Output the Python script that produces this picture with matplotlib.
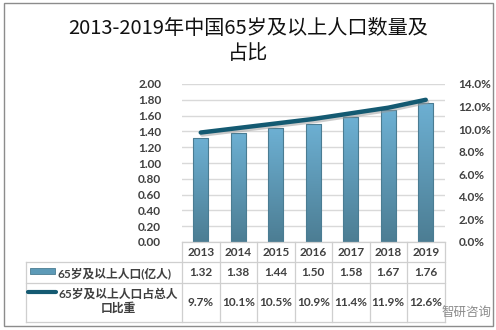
import numpy as np
import matplotlib
matplotlib.use("Agg")
import matplotlib.pyplot as plt
import matplotlib.patheffects as pe
from matplotlib.patches import Rectangle
from matplotlib.ticker import FuncFormatter

plt.rcParams['font.family'] = ['Lato', 'Noto Sans CJK SC', 'DejaVu Sans']

# 数据
years = ['2013', '2014', '2015', '2016', '2017', '2018', '2019']
pop_65 = [1.32, 1.38, 1.44, 1.50, 1.58, 1.67, 1.76]      # 亿人
share_65 = [9.7, 10.1, 10.5, 10.9, 11.4, 11.9, 12.6]     # %
title = '2013-2019年中国65岁及以上人口数量及\n占比'
bar_label = '65岁及以上人口(亿人)'
line_label = '65岁及以上人口占总人\n口比重'

W, H = 496, 330
txt_col = '#404040'
grid_col = '#d9d9d9'
line_col = '#145a72'

fig = plt.figure(figsize=(W / 100, H / 100), dpi=100)

# 图表区域（像素）
px_l, px_r, px_t, px_b = 182, 444.5, 84, 242
ax = fig.add_axes([px_l / W, 1 - px_b / H, (px_r - px_l) / W, (px_b - px_t) / H])
x = np.arange(len(years))

# 渐变柱子
grad = np.linspace(0, 1, 256).reshape(-1, 1)
cmap = matplotlib.colors.LinearSegmentedColormap.from_list('bar', ['#4c7d93', '#6db0d3'])
bars = ax.bar(x, pop_65, width=0.41, color='none', edgecolor='#4a7c92', linewidth=0.8, zorder=3)
for b in bars:
    bx, by, bw, bh = b.get_x(), b.get_y(), b.get_width(), b.get_height()
    im = ax.imshow(grad, cmap=cmap, aspect='auto', origin='lower',
                   extent=[bx, bx + bw, by, by + bh], zorder=2)
    im.set_clip_path(b)

ax.set_xlim(-0.5, len(years) - 0.5)
ax.set_ylim(0, 2.0)
ax.set_yticks(np.arange(0, 2.01, 0.2))
ax.yaxis.set_major_formatter(FuncFormatter(lambda v, p: f'{v:.2f}'))
ax.set_xticks([])
ax.grid(axis='y', color=grid_col, linewidth=1, zorder=0)
for s in ax.spines.values():
    s.set_visible(False)
ax.tick_params(axis='y', length=0, pad=15, labelsize=8.5, labelcolor=txt_col)
for t in ax.get_yticklabels():
    t.set_fontweight('bold')

ax2 = ax.twinx()
ax2.plot(x, share_65, color=line_col, linewidth=3.2, solid_capstyle='round', zorder=4,
         path_effects=[pe.SimpleLineShadow(offset=(1, -1.5), shadow_color='#999999', alpha=0.5),
                       pe.Normal()])
ax2.set_ylim(0, 14)
ax2.set_yticks(np.arange(0, 14.01, 2))
ax2.yaxis.set_major_formatter(FuncFormatter(lambda v, p: f'{v:.1f}%'))
for s in ax2.spines.values():
    s.set_visible(False)
ax2.tick_params(axis='y', length=0, pad=10, labelsize=8.5, labelcolor=txt_col)
for t in ax2.get_yticklabels():
    t.set_fontweight('bold')

# 标题
fig.text(0.5, 1 - 41 / H, title, ha='center', va='center', fontsize=14.5,
         family=['Noto Sans CJK SC'], color='#111111', linespacing=1.3)

# 数据表（像素坐标）
tab = fig.add_axes([0, 0, 1, 1], zorder=5)
tab.set_xlim(0, W)
tab.set_ylim(H, 0)
tab.axis('off')
tab.patch.set_alpha(0)

col_w = (px_r - px_l) / len(years)
row_y = [242, 262, 283, 322]
tline = dict(color='#cfcfcf', linewidth=0.9)
# 横线
tab.plot([px_l, px_r], [row_y[0]] * 2, **tline)
for yy in row_y[1:]:
    tab.plot([26, px_r], [yy, yy], **tline)
# 竖线
for k in range(len(years) + 1):
    tab.plot([px_l + k * col_w] * 2, [row_y[0], row_y[-1]], **tline)
tab.plot([26, 26], [row_y[1], row_y[-1]], **tline)

cell = dict(ha='center', va='center', fontsize=8.5, color=txt_col, fontweight='bold')
for i, yr in enumerate(years):
    cx = px_l + (i + 0.5) * col_w
    tab.text(cx, (row_y[0] + row_y[1]) / 2 + 0.5, yr, **cell)
    tab.text(cx, (row_y[1] + row_y[2]) / 2 + 0.5, f'{pop_65[i]:.2f}', **cell)
    tab.text(cx, (row_y[2] + row_y[3]) / 2, f'{share_65[i]:.1f}%', **cell)

# 图例
sw = Rectangle((30, 268), 25, 6, facecolor='#5d9ab7', edgecolor='#4a7c92', linewidth=0.6)
tab.add_patch(sw)
tab.text(57, (row_y[1] + row_y[2]) / 2 + 0.5, bar_label, ha='left', va='center',
         fontsize=8.5, color=txt_col, fontweight='bold')
tab.plot([28, 56], [291.5, 291.5], color=line_col, linewidth=3, solid_capstyle='round')
tab.text(118, 301, line_label, ha='center', va='center', fontsize=8.5, color=txt_col,
         fontweight='bold', linespacing=1.3)

# 水印
tab.text(467, 312, '智研咨询', ha='center', va='center', fontsize=9,
         color='#8a8a8a', family=['Noto Sans CJK SC'])

# 外框
tab.add_patch(Rectangle((3.5, 2.5), 489, 323.5, fill=False, edgecolor='#8c8c8c', linewidth=1))

fig.savefig('out.png', dpi=100)
